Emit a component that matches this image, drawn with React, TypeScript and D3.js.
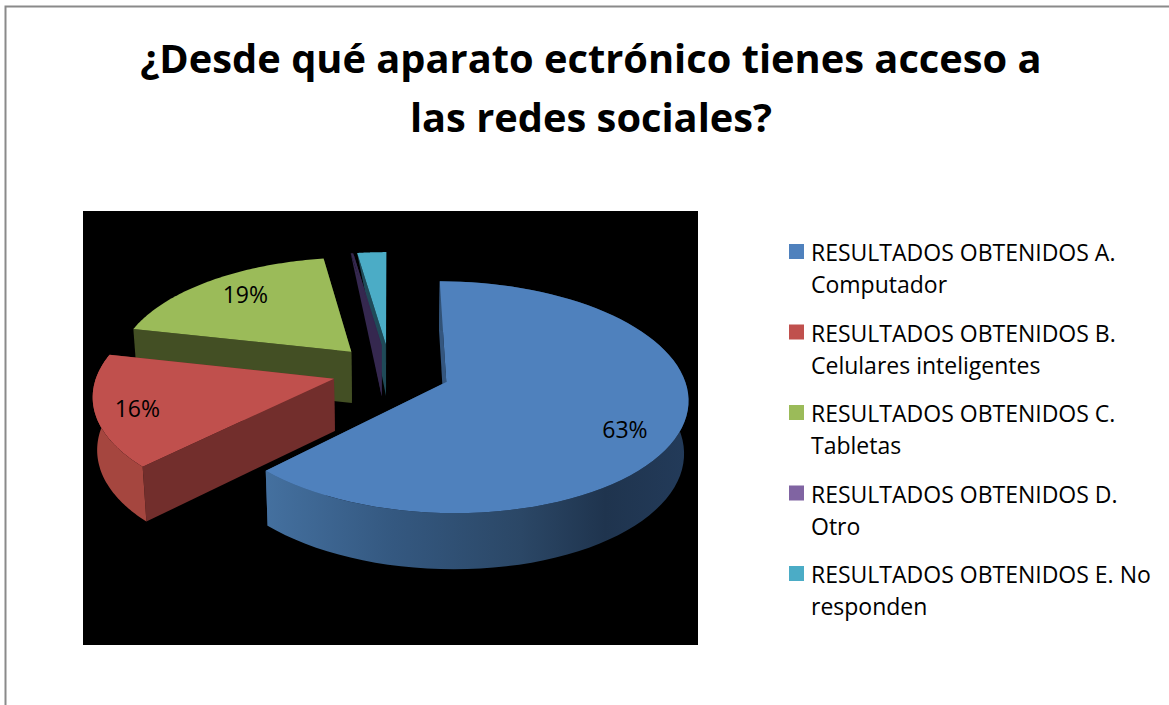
import React from "react";
import * as d3 from "d3";

// ---- data ----
const categories = [
  "RESULTADOS OBTENIDOS A. Computador",
  "RESULTADOS OBTENIDOS B. Celulares inteligentes",
  "RESULTADOS OBTENIDOS C. Tabletas",
  "RESULTADOS OBTENIDOS D. Otro",
  "RESULTADOS OBTENIDOS E. No responden",
];
const legendLines = [
  ["RESULTADOS OBTENIDOS A.", "Computador"],
  ["RESULTADOS OBTENIDOS B.", "Celulares inteligentes"],
  ["RESULTADOS OBTENIDOS C.", "Tabletas"],
  ["RESULTADOS OBTENIDOS D.", "Otro"],
  ["RESULTADOS OBTENIDOS E. No", "responden"],
];
const values = [62.5, 16, 19, 0.2, 2.3];
const valueLabels = ["63%", "16%", "19%", "", ""];
const titleLines = ["¿Desde qué aparato ectrónico tienes acceso a", "las redes sociales?"];

// ---- styles and layout ----
const legendColors = ["#4f81bd", "#c0504d", "#9bbb59", "#8064a2", "#4bacc6"];
const topColors = ["#4f81bd", "#c0504d", "#9bbb59", "#35284f", "#4bacc6"];
const rimColors = ["url(#blueRim)", "#a5463f", "none", "none", "none"];
const wallColors = ["#34567f", "#722e2c", "#434f24", "#35284f", "#1f4a58"];
const explodeBy = [0.255, 0.245, 0.245, 0.245, 0.245];
const FONT = "'Open Sans', sans-serif";
const CX = 390, CY = 371, RX = 236, RY = 111, K = 0.13;
const DEPTH = 52, SHRINK = 0.985;
const START = 0;
const labelNudge = [
  { da: 7.0, r: 0.8 },
  { da: -1.6, r: 0.83 },
  { da: 2.4, r: 0.775 },
  { da: 0, r: 0.8 },
  { da: 0, r: 0.8 },
];

const project = (u: number, v: number, z = 0): [number, number] => {
  const w = 1 + K * v;
  const x = (RX * u) / w;
  const y = (-RY * v) / w;
  return z
    ? [CX + x * SHRINK, CY + y + DEPTH / Math.sqrt(w)]
    : [CX + x, CY + y];
};

const slices = d3
  .pie<number>()
  .sort(null)
  .startAngle(START)
  .endAngle(START + 2 * Math.PI)(values);

const line = d3.line().curve(d3.curveLinear);
const closed = (pts: [number, number][]) => line(pts) + "Z";

const geom = slices.map((s, i) => {
  const mid = (s.startAngle + s.endAngle) / 2;
  const ox = explodeBy[i] * Math.sin(mid);
  const oy = explodeBy[i] * Math.cos(mid);
  const at = (a: number, r: number, z = 0) =>
    project(ox + r * Math.sin(a), oy + r * Math.cos(a), z);
  const angles = d3.range(0, 81).map((k) => s.startAngle + ((s.endAngle - s.startAngle) * k) / 80);
  const top = closed([at(0, 0), ...angles.map((a) => at(a, 1))]);
  const rim = closed([
    ...angles.map((a) => at(a, 1)),
    ...angles.slice().reverse().map((a) => at(a, 1, 1)),
  ]);
  // the two slivers at the back taper to a point in the reference
  const wall = (a: number) =>
    i >= 3
      ? closed([at(a, 0), at(a, 1), at(a, 0, 1)])
      : closed([at(a, 0), at(a, 1), at(a, 1, 1), at(a, 0, 1)]);
  return { top, rim, startWall: wall(s.startAngle), endWall: wall(s.endAngle), at, mid };
});

const drawOrder = [4, 3, 2, 1, 0];

export default function App() {
  return (
    <svg
      width={1169}
      height={705}
      viewBox="0 0 1169 705"
      style={{ position: "fixed", left: 0, top: 0, background: "#fff" }}
    >
      <defs>
        <linearGradient id="blueRim" gradientUnits="userSpaceOnUse" x1={267} x2={690} y1={0} y2={0}>
          <stop offset="0" stopColor="#44709f" />
          <stop offset="0.3" stopColor="#345880" />
          <stop offset="0.6" stopColor="#2b4766" />
          <stop offset="0.8" stopColor="#1f344e" />
          <stop offset="1" stopColor="#233b5a" />
        </linearGradient>
      </defs>
      <rect x={5.5} y={6.5} width={1170} height={705} fill="#fff" stroke="#8a8a8a" strokeWidth={2} />
      <g fontFamily={FONT} fontWeight={700} fontSize={39.8} fill="#000" textAnchor="middle">
        {titleLines.map((t, i) => (
          <text key={t} x={591} y={73 + i * 59}>{t}</text>
        ))}
      </g>
      <rect x={83} y={211} width={615} height={434} fill="#000" />
      {drawOrder.map((i) => (
        <g key={categories[i]}>
          <path d={geom[i].endWall} fill={wallColors[i]} />
          <path d={geom[i].startWall} fill={wallColors[i]} />
          <path d={geom[i].rim} fill={rimColors[i]} />
          <path d={geom[i].top} fill={topColors[i]} />
        </g>
      ))}
      <g fontFamily={FONT} fontSize={23} fill="#000" textAnchor="middle" dominantBaseline="central">
        {valueLabels.map((t, i) => {
          if (!t) return null;
          const [x, y] = geom[i].at(geom[i].mid + (labelNudge[i].da * Math.PI) / 180, labelNudge[i].r);
          return <text key={t} x={x} y={y}>{t}</text>;
        })}
      </g>
      <g fontFamily={FONT} fontSize={23} fill="#000">
        {legendLines.map((ls, i) => {
          const y = d3.scaleLinear().domain([0, 4]).range([244, 566])(i);
          return (
            <g key={ls[0]}>
              <rect x={789} y={y} width={15} height={15} fill={legendColors[i]} />
              {ls.map((t, j) => (
                <text key={t} x={811} y={y + 17 + j * 32}>{t}</text>
              ))}
            </g>
          );
        })}
      </g>
    </svg>
  );
}
